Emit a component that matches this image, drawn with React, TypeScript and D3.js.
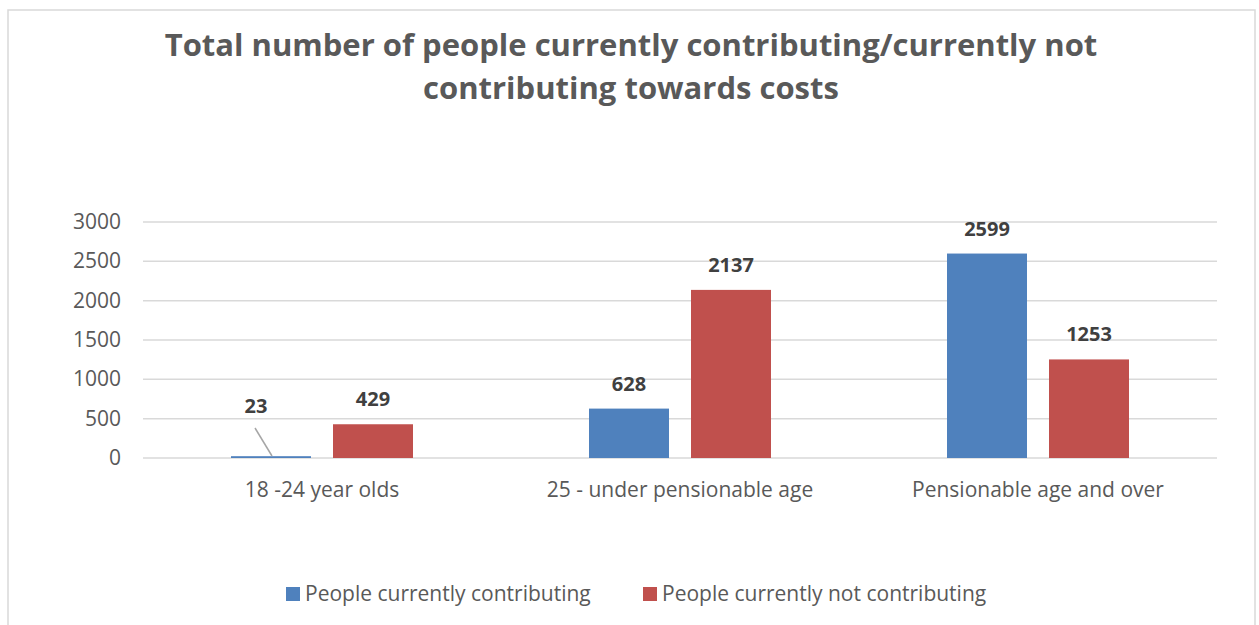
import React from "react";
import * as d3 from "d3";

const categories = ["18 -24 year olds", "25 - under pensionable age", "Pensionable age and over"];
const seriesNames = ["People currently contributing", "People currently not contributing"];
const contributing = [23, 628, 2599];
const notContributing = [429, 2137, 1253];
const yTicks = [0, 500, 1000, 1500, 2000, 2500, 3000];
const titleLines = ["Total number of people currently contributing/currently not", "contributing towards costs"];
const colors = ["#4f81bd", "#c0504d"];

const W = 1259, H = 625;
const FONT = "'Open Sans', 'Noto Sans', sans-serif";

export default function App() {
  const x0 = d3.scaleBand().domain(categories).range([143, 1217]).paddingInner(0).paddingOuter(0);
  const x1 = d3.scaleBand().domain(seriesNames).range([-91, 91]).paddingInner(22 / 102).paddingOuter(0);
  const y = d3.scaleLinear().domain([0, 3000]).range([458, 222]);
  const data = [contributing, notContributing];

  return (
    <svg width={W} height={H} style={{ position: "absolute", left: 0, top: 0 }} fontFamily={FONT}>
      <rect x={8} y={10} width={1247} height={640} fill="#fff" stroke="#d9d9d9" strokeWidth={1.5} />
      {titleLines.map((t, i) => (
        <text key={i} x={631} y={56 + i * 43} textAnchor="middle" fontSize={31} fontWeight={700} fill="#595959">
          {t}
        </text>
      ))}
      {yTicks.map((t) => (
        <g key={t}>
          <line x1={143} x2={1217} y1={y(t)} y2={y(t)} stroke="#d9d9d9" strokeWidth={1.5} />
          <text x={121} y={y(t) + 7} textAnchor="end" fontSize={21} fill="#595959">{t}</text>
        </g>
      ))}
      {categories.map((c, ci) => {
        const cx = x0(c)! + x0.bandwidth() / 2;
        return (
          <g key={c}>
            {seriesNames.map((s, si) => {
              const v = data[si][ci];
              const bx = cx + x1(s)!;
              const bw = x1.bandwidth();
              const top = y(v);
              return (
                <g key={s}>
                  <rect x={bx} y={top} width={bw} height={y(0) - top} fill={colors[si]} />
                  {v < 100 ? (
                    <g>
                      <line x1={bx + 24} y1={428} x2={bx + 41} y2={456} stroke="#a6a6a6" strokeWidth={1.5} />
                      <text x={bx + 25} y={413} textAnchor="middle" fontSize={20} fontWeight={700} fill="#404040">{v}</text>
                    </g>
                  ) : (
                    <text x={bx + bw / 2} y={top - 18} textAnchor="middle" fontSize={20} fontWeight={700} fill="#404040">{v}</text>
                  )}
                </g>
              );
            })}
            <text x={cx} y={497} textAnchor="middle" fontSize={21} fill="#595959">{c}</text>
          </g>
        );
      })}
      {seriesNames.map((s, si) => {
        const lx = si === 0 ? 286 : 643;
        return (
          <g key={s}>
            <rect x={lx} y={587} width={14} height={14} fill={colors[si]} />
            <text x={lx + 19} y={601} fontSize={21} fill="#595959">{s}</text>
          </g>
        );
      })}
    </svg>
  );
}
